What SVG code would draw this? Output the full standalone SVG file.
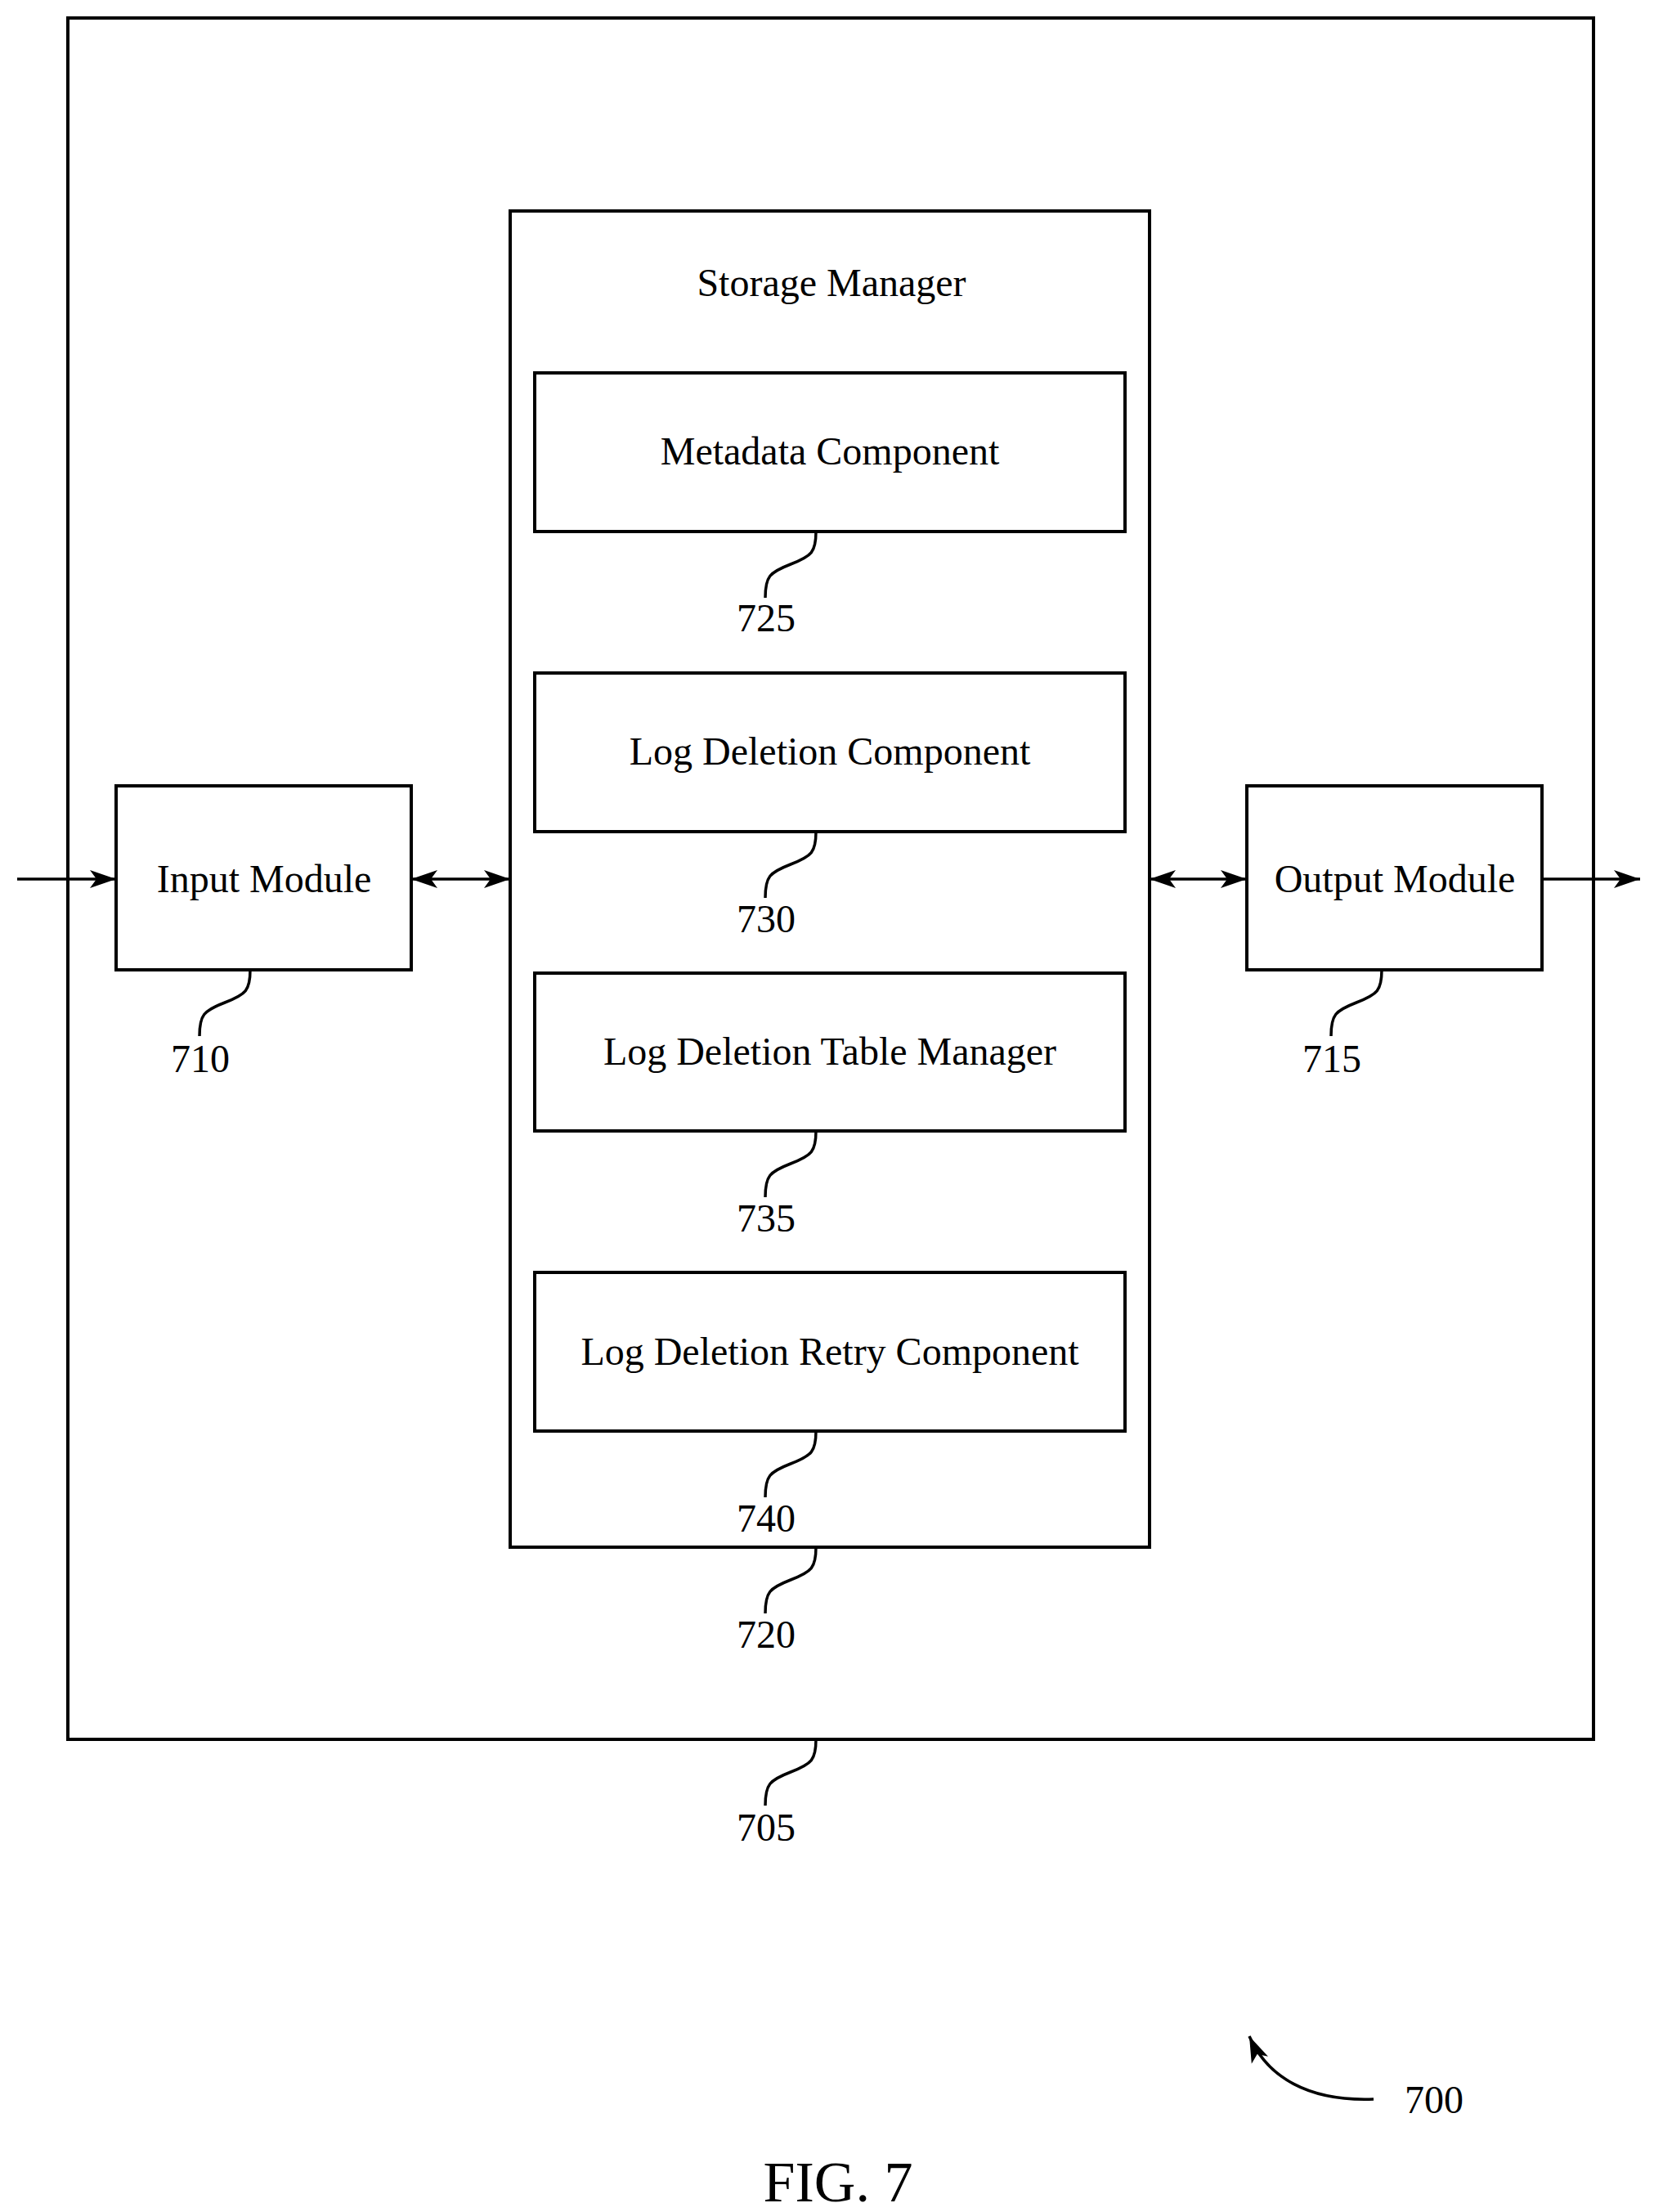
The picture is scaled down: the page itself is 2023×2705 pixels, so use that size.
<svg xmlns="http://www.w3.org/2000/svg" width="2023" height="2705" viewBox="0 0 2023 2705">
<style>
rect{fill:#fff;stroke:#000;stroke-width:4}
text{font-family:"Liberation Serif",serif;font-size:48px;text-anchor:middle;fill:#000}
.l{fill:none;stroke:#000;stroke-width:3.5}
</style>
<defs>
<marker id="b" viewBox="0 0 32 28" refX="32" refY="14" markerWidth="32" markerHeight="28" orient="auto-start-reverse" markerUnits="userSpaceOnUse"><path d="M0,3 L32,14 L0,25 L8,14 Z" fill="#000"/></marker>
</defs>
<g id="n705"><rect x="83" y="22" width="1866" height="2105"/></g>
<g id="n720"><rect x="624" y="258" width="782" height="1634"/><text x="1017" y="362">Storage Manager</text></g>
<g id="n725"><rect x="654" y="456" width="722" height="194"/><text x="1015" y="568">Metadata Component</text></g>
<g id="n730"><rect x="654" y="823" width="722" height="194"/><text x="1015" y="935">Log Deletion Component</text></g>
<g id="n735"><rect x="654" y="1190" width="722" height="193"/><text x="1015" y="1302">Log Deletion Table Manager</text></g>
<g id="n740"><rect x="654" y="1556" width="722" height="194"/><text x="1015" y="1669">Log Deletion Retry Component</text></g>
<g id="n710"><rect x="142" y="961" width="361" height="225"/><text x="323" y="1091">Input Module</text></g>
<g id="n715"><rect x="1525" y="961" width="361" height="225"/><text x="1706" y="1091">Output Module</text></g>
<g id="connectors">
<line class="l" x1="21" y1="1075" x2="142" y2="1075" marker-end="url(#b)"/>
<line class="l" x1="503" y1="1075" x2="624" y2="1075" marker-start="url(#b)" marker-end="url(#b)"/>
<line class="l" x1="1406" y1="1075" x2="1525" y2="1075" marker-start="url(#b)" marker-end="url(#b)"/>
<line class="l" x1="1886" y1="1075" x2="2006" y2="1075" marker-end="url(#b)"/>
<path class="l" d="M998,650 c0,25 -5,30 -31,40 c-26,10 -31,15 -31,41"/>
<path class="l" d="M998,1017 c0,25 -5,30 -31,40 c-26,10 -31,15 -31,41"/>
<path class="l" d="M998,1383 c0,25 -5,30 -31,40 c-26,10 -31,15 -31,41"/>
<path class="l" d="M998,1750 c0,25 -5,30 -31,40 c-26,10 -31,15 -31,41"/>
<path class="l" d="M998,1892 c0,25 -5,30 -31,40 c-26,10 -31,15 -31,41"/>
<path class="l" d="M998,2127 c0,25 -5,30 -31,40 c-26,10 -31,15 -31,41"/>
<path class="l" d="M306,1186 c0,25 -5,30 -31,40 c-26,10 -31,15 -31,41"/>
<path class="l" d="M1690,1186 c0,25 -5,30 -31,40 c-26,10 -31,15 -31,41"/>
<path class="l" d="M1680,2567 C1600,2570 1550,2540 1528,2490" marker-end="url(#b)"/>
</g>
<text x="937" y="772">725</text>
<text x="937" y="1140">730</text>
<text x="937" y="1506">735</text>
<text x="937" y="1873">740</text>
<text x="937" y="2015">720</text>
<text x="937" y="2251">705</text>
<text x="245" y="1311">710</text>
<text x="1629" y="1311">715</text>
<text x="1754" y="2584">700</text>
<text x="1025" y="2692" style="font-size:70px">FIG. 7</text>
</svg>
